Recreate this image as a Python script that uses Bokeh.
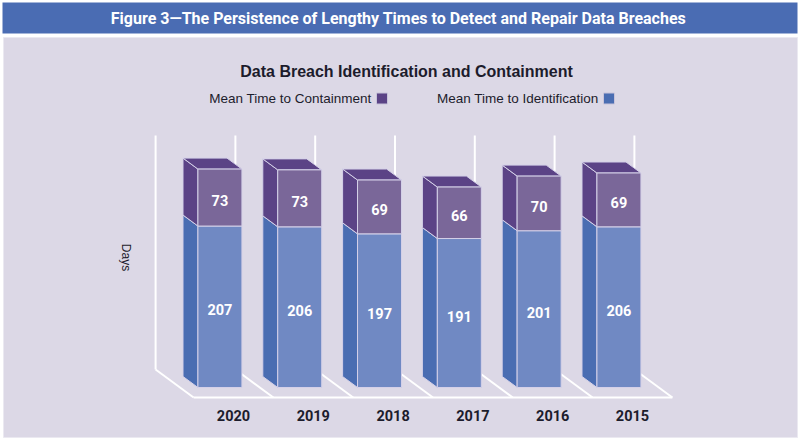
import math
from bokeh.plotting import figure
from bokeh.models import Range1d
from bokeh.core.properties import value
from bokeh.embed import file_html
from bokeh.resources import INLINE

# ---------------- data ----------------
years = ["2015", "2016", "2017", "2018", "2019", "2020"]
identification = [206, 201, 191, 197, 206, 207]
containment = [69, 70, 66, 69, 73, 73]
series_names = ["Mean Time to Identification", "Mean Time to Containment"]
title_text = "Figure 3\u2014The Persistence of Lengthy Times to Detect and Repair Data Breaches"
subtitle_text = "Data Breach Identification and Containment"
y_label = "Days"

# ---------------- styling / geometry ----------------
W, H = 800, 440
X_PX = 79.8      # px per category
Y_PX = 0.78      # px per day
X_ORIGIN = 632   # px of first category centre (front floor)
Y_ORIGIN = 387   # px of zero days on bar front plane
DX = 38 / X_PX   # full floor depth, x offset (data units)
DY = 28 / Y_PX   # full floor depth, y offset (data units)
Z1 = 10 / 28     # bar front plane depth
ZD = 11 / 28     # bar depth
BAR_W = 44 / X_PX
WALL_TOP = 300

C_TITLE = "#4a6cb3"
C_PANEL = "#dcd8e6"
C_BLUE_F = "#7089c3"
C_BLUE_S = "#4a6db2"
C_PURP_F = "#7a6799"
C_PURP_S = "#5b4386"
C_EDGE = "#d4d0e8"
C_TEXT = "#1c1c2c"
NARROW = value("Roboto")
SANS = value("Liberation Sans")

p = figure(width=W, height=H, output_backend="svg", toolbar_location=None,
           x_range=Range1d(X_ORIGIN / X_PX, (X_ORIGIN - W) / X_PX),
           y_range=Range1d((Y_ORIGIN - H) / Y_PX, Y_ORIGIN / Y_PX),
           min_border=0, x_axis_location=None, y_axis_location=None)
p.grid.visible = False
p.outline_line_color = None
p.background_fill_color = "white"
p.border_fill_color = "white"


def sx(px):
    return (X_ORIGIN - px) / X_PX


def sy(py):
    return (Y_ORIGIN - py) / Y_PX


def proj(x, h, z):
    return x + z * DX, h + (z - Z1) * DY


# panel and title bar
p.quad(left=sx(3), right=sx(797), top=sy(37), bottom=sy(437),
       fill_color=C_PANEL, line_color="#ebe9f1", line_width=1)
p.quad(left=sx(2), right=sx(797), top=sy(2), bottom=sy(33),
       fill_color=C_TITLE, line_color=None)
p.text(x=[sx(398)], y=[sy(17.5)], text=[title_text], text_color="white",
       text_font=NARROW, text_font_style="bold", text_font_size="16px",
       text_align="center", text_baseline="middle")
p.text(x=[sx(406)], y=[sy(71)], text=[subtitle_text], text_color=C_TEXT,
       text_font=SANS, text_font_style="bold", text_font_size="16px",
       text_align="center", text_baseline="middle")

# legend
for (sq_l, txt_r), name, col in zip([(603, 598), (376, 371)], series_names, [C_BLUE_S, C_PURP_S]):
    p.quad(left=sx(sq_l), right=sx(sq_l + 11), top=sy(92.5), bottom=sy(103.5),
           fill_color=col, line_color="#c8c4da", line_width=1)
    p.text(x=[sx(txt_r)], y=[sy(98)], text=[name], text_color=C_TEXT,
           text_font=SANS, text_font_size="13.5px",
           text_align="right", text_baseline="middle")

# y label
p.text(x=[sx(125)], y=[sy(257)], text=[y_label], text_color=C_TEXT,
       text_font=SANS, text_font_size="12px", angle=-math.pi / 2,
       text_align="center", text_baseline="middle")

# back wall & floor lines
n = len(years)
bounds = [i - 0.5 for i in range(n + 1)]
bx0, by0, bx1, by1 = [], [], [], []
for b in bounds:
    xb, yb = proj(b, 0, 1)
    xt, yt = proj(b, WALL_TOP, 1)
    xf, yf = proj(b, 0, 0)
    bx0 += [xb, xb]; by0 += [yb, yb]
    bx1 += [xt, xf]; by1 += [yt, yf]
fl0 = proj(bounds[0], 0, 0)
fl1 = proj(bounds[-1], 0, 0)
bx0.append(fl0[0]); by0.append(fl0[1]); bx1.append(fl1[0]); by1.append(fl1[1])
p.segment(x0=bx0, y0=by0, x1=bx1, y1=by1, line_color="white", line_width=2)

# bars
side_xs, side_ys, side_c = [], [], []
top_xs, top_ys = [], []
fl, fr, fb, ft, fc = [], [], [], [], []
for i in range(n):
    segs = [(0, identification[i], C_BLUE_F, C_BLUE_S),
            (identification[i], identification[i] + containment[i], C_PURP_F, C_PURP_S)]
    xl = i + BAR_W / 2   # appears on the left (reversed axis)
    xr = i - BAR_W / 2
    for h0, h1, cf, cs in segs:
        pts = [proj(xl, h0, Z1), proj(xl, h1, Z1), proj(xl, h1, Z1 + ZD), proj(xl, h0, Z1 + ZD)]
        side_xs.append([q[0] for q in pts]); side_ys.append([q[1] for q in pts]); side_c.append(cs)
        a = proj(xl, h0, Z1); b = proj(xr, h1, Z1)
        fl.append(a[0]); fr.append(b[0]); fb.append(a[1]); ft.append(b[1]); fc.append(cf)
    top = identification[i] + containment[i]
    pts = [proj(xr, top, Z1), proj(xl, top, Z1), proj(xl, top, Z1 + ZD), proj(xr, top, Z1 + ZD)]
    top_xs.append([q[0] for q in pts]); top_ys.append([q[1] for q in pts])

p.patches(xs=side_xs, ys=side_ys, fill_color=side_c, line_color=C_EDGE, line_width=1)
p.patches(xs=top_xs, ys=top_ys, fill_color=C_PURP_S, line_color=C_EDGE, line_width=1)
p.quad(left=fl, right=fr, bottom=fb, top=ft, fill_color=fc, line_color=C_EDGE, line_width=1)

# value labels
lx, ly, lt = [], [], []
for i in range(n):
    cx, _ = proj(i, 0, Z1)
    lx += [cx, cx]
    ly += [identification[i] / 2 - 3 / Y_PX,
           identification[i] + containment[i] / 2 - 3 / Y_PX]
    lt += [str(identification[i]), str(containment[i])]
p.text(x=lx, y=ly, text=lt, text_color="white", text_font=NARROW,
       text_font_style="bold", text_font_size="14.5px",
       text_align="center", text_baseline="middle")

# category labels
p.text(x=list(range(n)), y=[sy(415)] * n, text=years, text_color=C_TEXT,
       text_font=NARROW, text_font_style="bold", text_font_size="14.5px",
       text_align="center", text_baseline="middle")

open("out.html", "w").write(file_html(p, INLINE))
